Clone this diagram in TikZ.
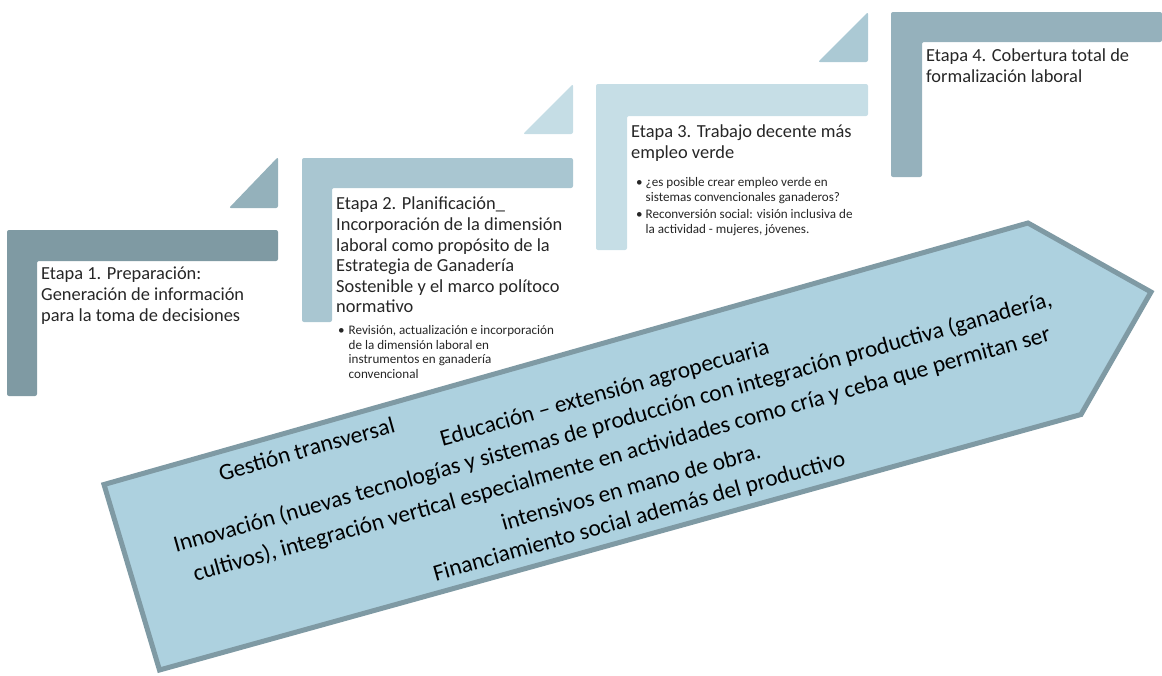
\documentclass[tikz,border=0pt]{standalone}
\usepackage{fontspec}
\setmainfont{Carlito}
\usepackage{xcolor}
\usepackage{tikz}
\usetikzlibrary{positioning}
\definecolor{frameone}{HTML}{7F9AA3}
\definecolor{frametwo}{HTML}{A9C6D1}
\definecolor{framethree}{HTML}{C6DEE6}
\definecolor{framefour}{HTML}{95B1BC}
\definecolor{cornerone}{HTML}{94B1BB}
\definecolor{cornertwo}{HTML}{C5DDE5}
\definecolor{cornerthree}{HTML}{ABC9D4}
\definecolor{flowfill}{HTML}{ADD1DF}
\definecolor{flowline}{HTML}{7F9AA4}
\definecolor{textdark}{HTML}{262626}
\tikzset{
  stagetext/.style={
    anchor=north west, inner sep=0pt, align=left, text=textdark,
    font=\fontsize{18.4}{20.6}\selectfont
  },
  stagebullets/.style={
    anchor=north west, inner sep=0pt, text=textdark,
    font=\fontsize{13.1}{14.7}\selectfont
  },
  flowtext/.style={inner sep=0pt, text=black, font=\fontsize{23.4}{27}\selectfont},
  flowarrow/.style={fill=flowfill, draw=flowline, line width=5pt, line join=miter},
}
% L-shaped frame: colour, x left, y top, x right, y bar, x inner, y bottom
\newcommand{\stageframe}[7]{%
  \fill[#1, rounded corners=2pt] (#2,#3) -- (#4,#3) -- (#4,#5) -- (#6,#5)
    -- (#6,#7) -- (#2,#7) -- cycle;}
% corner triangle: colour, x left, x right, y bottom, y top
\newcommand{\stagecorner}[5]{%
  \fill[#1, rounded corners=2pt] (#2,#4) -- (#3,#4) -- (#3,#5) -- cycle;}

\begin{document}
\begin{tikzpicture}[x=1pt, y=-1pt]
    \useasboundingbox (0,0) rectangle (1162,675);

    % stage frames
    \stageframe{frameone}{7}{230}{278}{261}{37}{396}
    \stagecorner{cornerone}{229}{278}{208}{157}
    \stageframe{frametwo}{302}{158}{573}{188}{332}{322}
    \stagecorner{cornertwo}{523}{573}{134}{84}
    \stageframe{framethree}{596}{84}{868}{116}{627}{250}
    \stagecorner{cornerthree}{818}{868}{62}{12}
    \stageframe{framefour}{891}{12}{1162}{42}{922}{177}

    % stage texts
    \node[stagetext] (etapa1) at (41,267)
      {Etapa 1. Preparación:\\Generación de información\\para la toma de decisiones};
    \node[stagetext] (etapa2) at (336,197)
      {Etapa 2. Planificación\_\\Incorporación de la dimensión\\laboral como propósito de la\\
       Estrategia de Ganadería\\Sostenible y el marco polítoco\\normativo};
    \node[stagebullets] (etapa2b) at (338,324)
      {\begin{tabular}{@{}l@{\hspace{4pt}}l@{}}
        \textbullet & Revisión, actualización e incorporación\\
        & de la dimensión laboral en\\
        & instrumentos en ganadería\\
        & convencional
       \end{tabular}};
    \node[stagetext] (etapa3) at (631,125)
      {Etapa 3. Trabajo decente más\\empleo verde};
    \node[stagebullets] (etapa3b) at (636,176)
      {\begin{tabular}{@{}l@{\hspace{3pt}}l@{}}
        \textbullet & ¿es posible crear empleo verde en\\
        & sistemas convencionales ganaderos?\\[3pt]
        \textbullet & Reconversión social: visión inclusiva de\\
        & la actividad - mujeres, jóvenes.
       \end{tabular}};
    \node[stagetext] (etapa4) at (926,49)
      {Etapa 4. Cobertura total de\\formalización laboral};

    % transversal arrow
    \draw[flowarrow] (104,484.5) -- (1028,223) -- (1151,292) -- (1081,414.5)
      -- (159.5,670) -- cycle;

    \begin{scope}[shift={(613,423)}, rotate=15.7, transform shape]
      \node[flowtext] (gestion) at (-302,-58) {Gestión transversal};
      \node[flowtext] (educacion) at (0,-30) {Educación – extensión agropecuaria};
      \node[flowtext] (innova) at (0,0)
        {Innovación (nuevas tecnologías y sistemas de producción con integración productiva (ganadería,};
      \node[flowtext] (innovb) at (0,33)
        {cultivos), integración vertical especialmente en actividades como cría y ceba que permitan ser};
      \node[flowtext] (innovc) at (0,66) {intensivos en mano de obra.};
      \node[flowtext] (financ) at (0,98) {Financiamiento social además del productivo};
    \end{scope}
  \end{tikzpicture}
\end{document}
